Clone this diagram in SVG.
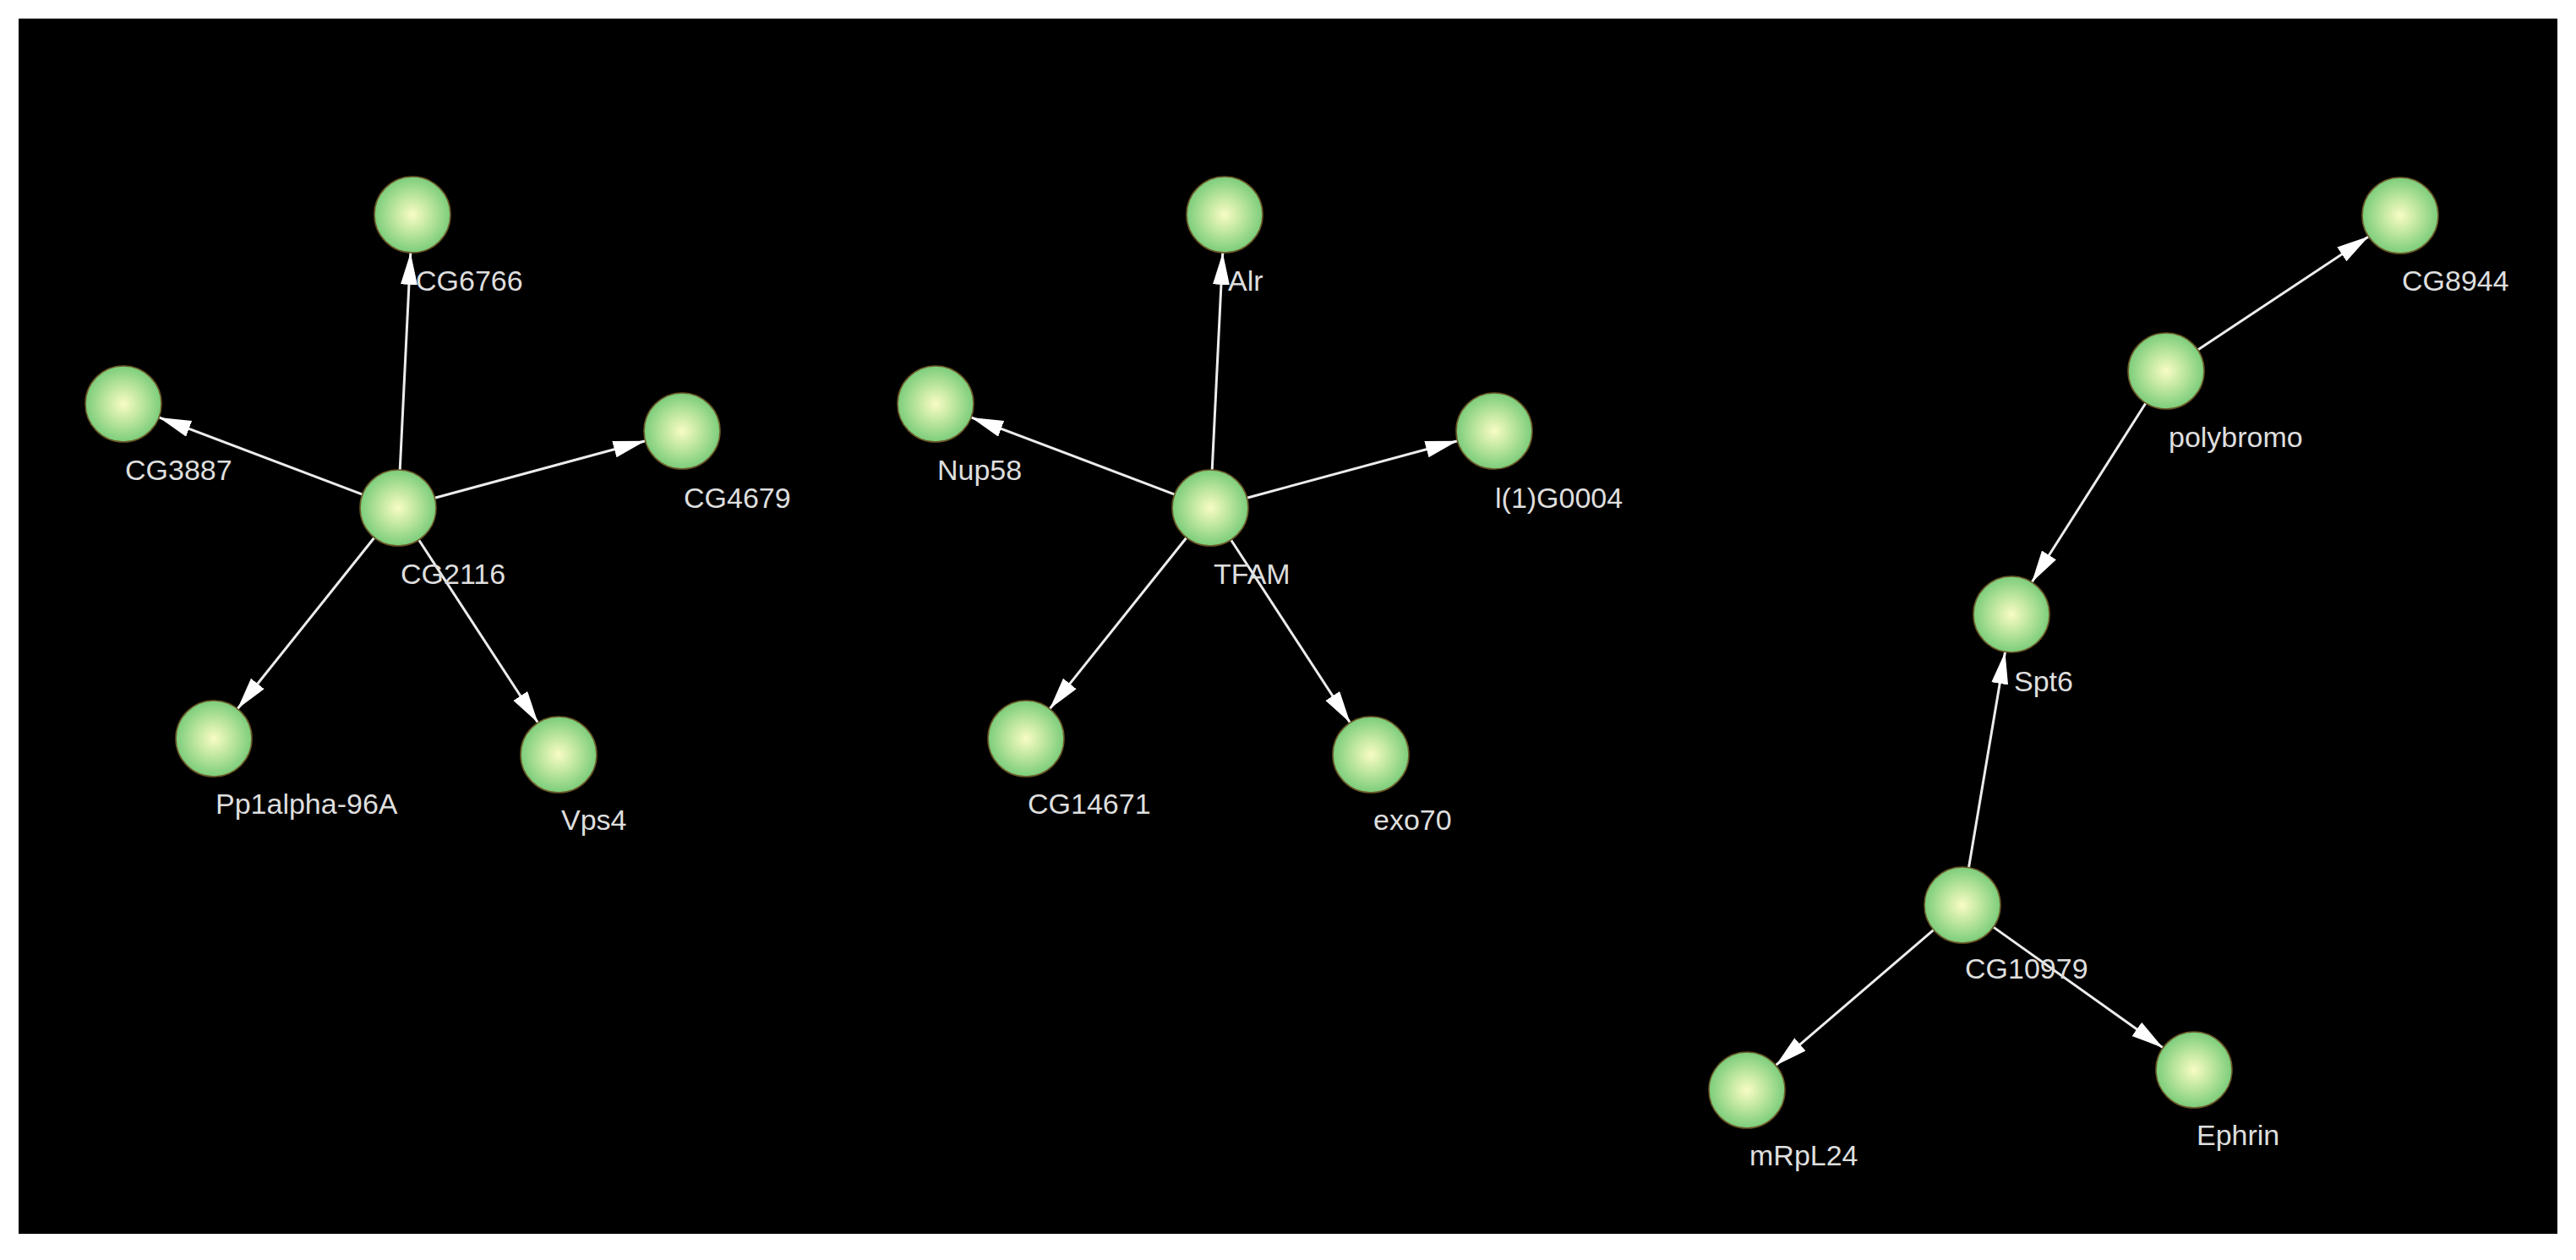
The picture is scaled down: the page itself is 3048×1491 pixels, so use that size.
<svg xmlns="http://www.w3.org/2000/svg" width="3048" height="1491" viewBox="0 0 3048 1491">
<style>
.lbl{font-family:"Liberation Sans",Arial,sans-serif;font-size:34px;fill:#dedede}
.nd{fill:url(#g);stroke:#6b5a28;stroke-width:1.6}
.e{stroke:#ececec;stroke-width:3;fill:none;marker-end:url(#arr)}
</style>
<defs>
<radialGradient id="g" cx="50%" cy="50%" r="50%">
<stop offset="0" stop-color="#f8fcc6"/>
<stop offset="0.45" stop-color="#c2e8a0"/>
<stop offset="1" stop-color="#7ccd7c"/>
</radialGradient>
<marker id="arr" markerUnits="userSpaceOnUse" markerWidth="40" markerHeight="22" refX="38" refY="10" orient="auto" viewBox="0 0 40 22">
<path d="M0,0 L38,10 L0,20 z" fill="#ffffff"/>
</marker>
</defs>
<rect x="0" y="0" width="3048" height="1491" fill="#ffffff"/>
<rect x="22" y="22" width="3004" height="1438" fill="#000000"/>
<g id="edges">
<line class="e" x1="473.2" y1="556.1" x2="485.8" y2="298.9"/>
<line class="e" x1="428.9" y1="585.1" x2="188.1" y2="493.9"/>
<line class="e" x1="514.4" y1="589.2" x2="763.6" y2="521.8"/>
<line class="e" x1="442.9" y1="636.2" x2="281.1" y2="838.8"/>
<line class="e" x1="495.5" y1="638.7" x2="636.5" y2="855.3"/>
<line class="e" x1="1434.2" y1="556.1" x2="1446.8" y2="298.9"/>
<line class="e" x1="1389.9" y1="585.1" x2="1149.1" y2="493.9"/>
<line class="e" x1="1475.4" y1="589.2" x2="1724.6" y2="521.8"/>
<line class="e" x1="1403.9" y1="636.2" x2="1242.1" y2="838.8"/>
<line class="e" x1="1456.5" y1="638.7" x2="1597.5" y2="855.3"/>
<line class="e" x1="2600.5" y1="414.1" x2="2802.5" y2="279.9"/>
<line class="e" x1="2538.9" y1="477.0" x2="2404.1" y2="689.0"/>
<line class="e" x1="2329.5" y1="1026.6" x2="2372.5" y2="771.4"/>
<line class="e" x1="2287.9" y1="1100.3" x2="2101.1" y2="1260.7"/>
<line class="e" x1="2358.7" y1="1097.1" x2="2559.3" y2="1239.9"/>
</g>
<g id="n-CG2116"><circle class="nd" cx="471" cy="601" r="45"/><text class="lbl" x="474" y="691">CG2116</text></g>
<g id="n-CG6766"><circle class="nd" cx="488" cy="254" r="45"/><text class="lbl" x="492" y="344">CG6766</text></g>
<g id="n-CG3887"><circle class="nd" cx="146" cy="478" r="45"/><text class="lbl" x="148" y="568">CG3887</text></g>
<g id="n-CG4679"><circle class="nd" cx="807" cy="510" r="45"/><text class="lbl" x="809" y="601">CG4679</text></g>
<g id="n-Pp1alpha-96A"><circle class="nd" cx="253" cy="874" r="45"/><text class="lbl" x="255" y="963">Pp1alpha-96A</text></g>
<g id="n-Vps4"><circle class="nd" cx="661" cy="893" r="45"/><text class="lbl" x="664" y="982">Vps4</text></g>
<g id="n-TFAM"><circle class="nd" cx="1432" cy="601" r="45"/><text class="lbl" x="1436" y="691">TFAM</text></g>
<g id="n-Alr"><circle class="nd" cx="1449" cy="254" r="45"/><text class="lbl" x="1453" y="344">Alr</text></g>
<g id="n-Nup58"><circle class="nd" cx="1107" cy="478" r="45"/><text class="lbl" x="1109" y="568">Nup58</text></g>
<g id="n-l1G0004"><circle class="nd" cx="1768" cy="510" r="45"/><text class="lbl" x="1769" y="601">l(1)G0004</text></g>
<g id="n-CG14671"><circle class="nd" cx="1214" cy="874" r="45"/><text class="lbl" x="1216" y="963">CG14671</text></g>
<g id="n-exo70"><circle class="nd" cx="1622" cy="893" r="45"/><text class="lbl" x="1625" y="982">exo70</text></g>
<g id="n-CG8944"><circle class="nd" cx="2840" cy="255" r="45"/><text class="lbl" x="2842" y="344">CG8944</text></g>
<g id="n-polybromo"><circle class="nd" cx="2563" cy="439" r="45"/><text class="lbl" x="2566" y="529">polybromo</text></g>
<g id="n-Spt6"><circle class="nd" cx="2380" cy="727" r="45"/><text class="lbl" x="2383" y="818">Spt6</text></g>
<g id="n-CG10979"><circle class="nd" cx="2322" cy="1071" r="45"/><text class="lbl" x="2325" y="1158">CG10979</text></g>
<g id="n-mRpL24"><circle class="nd" cx="2067" cy="1290" r="45"/><text class="lbl" x="2070" y="1379">mRpL24</text></g>
<g id="n-Ephrin"><circle class="nd" cx="2596" cy="1266" r="45"/><text class="lbl" x="2599" y="1355">Ephrin</text></g>
</svg>
